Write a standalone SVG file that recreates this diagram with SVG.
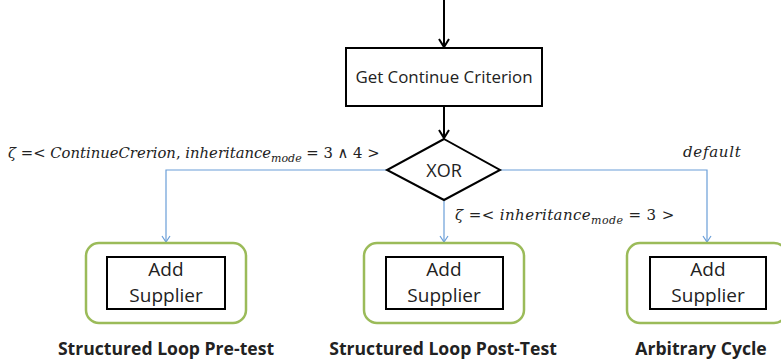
<svg xmlns="http://www.w3.org/2000/svg" width="781" height="363" viewBox="0 0 781 363">
<style>
.box{fill:#fff;stroke:#000;stroke-width:2}
.grp{fill:none;stroke:#9BBB59;stroke-width:2.5}
.lbl{font-family:"Open Sans","Liberation Sans",sans-serif;font-size:19px;fill:#222;text-anchor:middle}
.cap{font-family:"Open Sans","Liberation Sans",sans-serif;font-size:17.6px;font-weight:bold;fill:#222;text-anchor:middle}
.math{font-family:"DejaVu Serif","Liberation Serif",serif;font-size:15px;fill:#222}
.it{font-style:italic}
.blk{stroke:#000;stroke-width:2;fill:none}
.blu{stroke:#6A9ED8;stroke-width:1.2;fill:none}
</style>
<defs>
<marker id="ab" markerWidth="12" markerHeight="12" refX="10" refY="6" orient="auto" markerUnits="userSpaceOnUse">
<path d="M2,1 L10,6 L2,11" fill="none" stroke="#000" stroke-width="2"/>
</marker>
<marker id="au" markerWidth="10" markerHeight="10" refX="9" refY="5" orient="auto" markerUnits="userSpaceOnUse">
<path d="M3,1 L9,5 L3,9" fill="none" stroke="#6A9ED8" stroke-width="1.2"/>
</marker>
</defs>
<g id="connectors">
<path class="blk" d="M444,0 V47" marker-end="url(#ab)"/>
<path class="blk" d="M444,106 V138" marker-end="url(#ab)"/>
<path class="blu" d="M387,170 H166 V242" marker-end="url(#au)"/>
<path class="blu" d="M444,200 V242" marker-end="url(#au)"/>
<path class="blu" d="M500,170 H707 V242" marker-end="url(#au)"/>
</g>
<g id="getCriterion">
<rect class="box" x="346" y="48" width="196" height="58"/>
<text class="lbl" x="444" y="83" style="font-size:16.9px">Get Continue Criterion</text>
</g>
<g id="xor">
<polygon class="box" points="444,139 500,170 444,200 387,170"/>
<text class="lbl" x="444" y="177" style="font-size:18px">XOR</text>
</g>
<g id="labels">
<text class="math" x="8" y="158" style="font-size:14.8px"><tspan class="it">ζ</tspan> =&lt; <tspan class="it">ContinueCrerion</tspan>, <tspan class="it">inheritance</tspan><tspan class="it" font-size="11" dy="4">mode</tspan><tspan dy="-4"> = 3 ∧ 4 &gt;</tspan></text>
<text class="math" x="455" y="220" letter-spacing="0.4"><tspan class="it">ζ</tspan> =&lt;  <tspan class="it">inheritance</tspan><tspan class="it" font-size="11" dy="4">mode</tspan><tspan dy="-4"> = 3 &gt;</tspan></text>
<text class="math it" x="683" y="157" letter-spacing="0.7">default</text>
</g>
<g id="preTest">
<rect class="grp" x="86" y="243" width="160" height="80" rx="13"/>
<rect class="box" x="107" y="257" width="118" height="52"/>
<text class="lbl" x="166" y="276">Add</text>
<text class="lbl" x="166" y="302">Supplier</text>
<text class="cap" x="166" y="355">Structured Loop Pre-test</text>
</g>
<g id="postTest">
<rect class="grp" x="364" y="243" width="160" height="80" rx="13"/>
<rect class="box" x="386" y="257" width="117" height="52"/>
<text class="lbl" x="444" y="276">Add</text>
<text class="lbl" x="444" y="302">Supplier</text>
<text class="cap" x="443" y="355">Structured Loop Post-Test</text>
</g>
<g id="arbitrary">
<rect class="grp" x="627" y="243" width="160" height="80" rx="13"/>
<rect class="box" x="650" y="257" width="116" height="52"/>
<text class="lbl" x="708" y="276">Add</text>
<text class="lbl" x="708" y="302">Supplier</text>
<text class="cap" x="701" y="355">Arbitrary Cycle</text>
</g>
</svg>
